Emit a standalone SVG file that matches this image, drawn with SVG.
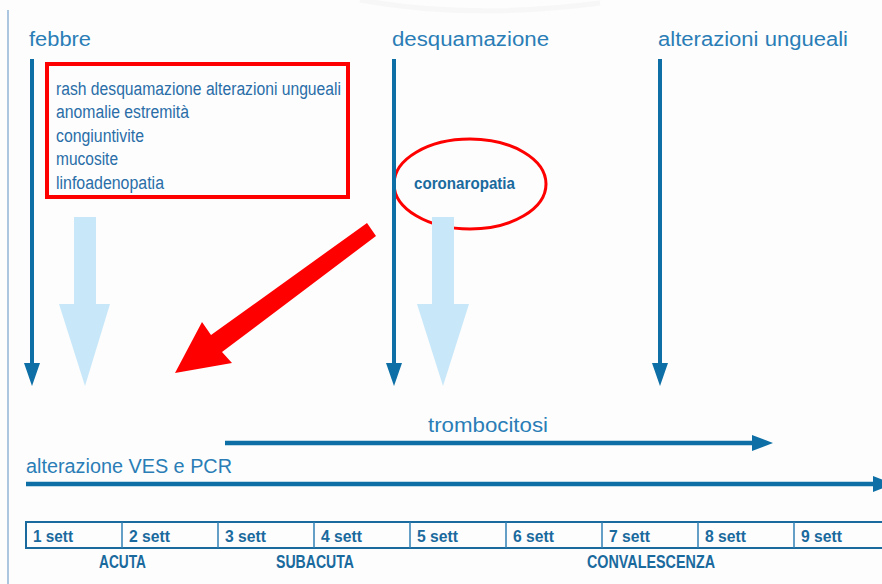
<svg xmlns="http://www.w3.org/2000/svg" width="882" height="584" viewBox="0 0 882 584">
<defs>
<style>
.hdr{font-family:"Liberation Sans",Arial,sans-serif;font-size:20px;fill:#2a7db6}
.box{font-family:"Liberation Sans Narrow","Liberation Sans",Arial,sans-serif;font-size:18px;fill:#2a6ea8}
.cell{font-family:"Liberation Sans Narrow","Liberation Sans",Arial,sans-serif;font-size:17px;font-weight:bold;fill:#1a6a9e}
.phase{font-family:"Liberation Sans Narrow","Liberation Sans",Arial,sans-serif;font-size:19px;font-weight:bold;fill:#1a6a9e}
.vline{stroke:#0d6fa5;stroke-width:4;fill:none}
.vhead{fill:#0d6fa5}
.big{fill:#c8e8f9}
.red{fill:none;stroke:#ff0000}
.col{stroke:#2f7fb5;stroke-width:1.5}
</style>
</defs>
<rect x="0" y="0" width="882" height="584" fill="#fdfdfd"/>
<path d="M360,0 Q470,20 600,3" fill="none" stroke="#f2f2f2" stroke-width="5" opacity="0.5"/>
<line x1="8" y1="10" x2="8" y2="584" stroke="#8fb3d3" stroke-width="1.5"/>

<g id="febbre"><text class="hdr" x="29" y="46" textLength="62" lengthAdjust="spacingAndGlyphs">febbre</text></g>
<g id="desquamazione"><text class="hdr" x="392" y="46" textLength="157" lengthAdjust="spacingAndGlyphs">desquamazione</text></g>
<g id="alterazioni-ungueali"><text class="hdr" x="658" y="46" textLength="190" lengthAdjust="spacingAndGlyphs">alterazioni ungueali</text></g>

<g id="sintomi">
<rect class="red" x="47" y="64" width="301" height="133" stroke-width="4"/>
<text class="box" x="56" y="95" textLength="285" lengthAdjust="spacingAndGlyphs">rash desquamazione alterazioni ungueali</text>
<text class="box" x="56" y="118" textLength="133" lengthAdjust="spacingAndGlyphs">anomalie estremità</text>
<text class="box" x="56" y="142" textLength="88" lengthAdjust="spacingAndGlyphs">congiuntivite</text>
<text class="box" x="56" y="165" textLength="62" lengthAdjust="spacingAndGlyphs">mucosite</text>
<text class="box" x="56" y="189" textLength="108" lengthAdjust="spacingAndGlyphs">linfoadenopatia</text>
</g>

<g id="coronaropatia">
<ellipse class="red" cx="470" cy="184" rx="76" ry="45" stroke-width="3"/>
<text x="414" y="189" textLength="101" lengthAdjust="spacingAndGlyphs" style="font-family:'Liberation Sans',Arial,sans-serif;font-size:16px;font-weight:bold;fill:#1a6a9e">coronaropatia</text>
</g>

<g id="trombocitosi-label"><text class="hdr" x="428" y="432" textLength="120" lengthAdjust="spacingAndGlyphs">trombocitosi</text></g>
<g id="ves-label"><text class="hdr" x="26" y="473" textLength="206" lengthAdjust="spacingAndGlyphs">alterazione VES e PCR</text></g>

<g id="connectors">
<line class="vline" x1="32" y1="59" x2="32" y2="366"/>
<polygon class="vhead" points="24,363 40,363 32,386"/>
<line class="vline" x1="394" y1="59" x2="394" y2="366"/>
<polygon class="vhead" points="386,363 402,363 394,386"/>
<line class="vline" x1="660" y1="59" x2="660" y2="366"/>
<polygon class="vhead" points="652,363 668,363 660,386"/>
<polygon class="big" points="74,217 96,217 96,304 110,304 85,386 59,304 74,304"/>
<polygon class="big" points="432,217 454,217 454,304 469,304 443,386 417,304 432,304"/>
<polygon fill="#ff0000" points="367,223 376,236 222,352 232,363 175,373 202,322 211,335"/>
<line x1="225" y1="443" x2="756" y2="443" stroke="#0d6fa5" stroke-width="4.5"/>
<polygon class="vhead" points="752,435 773,443 752,451"/>
<line x1="26" y1="484" x2="876" y2="484" stroke="#0d6fa5" stroke-width="4.5"/>
<polygon class="vhead" points="873,476 894,484 873,492"/>
</g>

<g id="settimane">
<rect x="26" y="522" width="870" height="26" fill="none" stroke="#1a6a9e" stroke-width="2"/>
<line class="col" x1="122" y1="522" x2="122" y2="548"/>
<line class="col" x1="218" y1="522" x2="218" y2="548"/>
<line class="col" x1="314" y1="522" x2="314" y2="548"/>
<line class="col" x1="410" y1="522" x2="410" y2="548"/>
<line class="col" x1="506" y1="522" x2="506" y2="548"/>
<line class="col" x1="602" y1="522" x2="602" y2="548"/>
<line class="col" x1="698" y1="522" x2="698" y2="548"/>
<line class="col" x1="794" y1="522" x2="794" y2="548"/>
<text class="cell" x="33" y="542" textLength="40" lengthAdjust="spacingAndGlyphs">1 sett</text>
<text class="cell" x="129" y="542" textLength="41" lengthAdjust="spacingAndGlyphs">2 sett</text>
<text class="cell" x="225" y="542" textLength="41" lengthAdjust="spacingAndGlyphs">3 sett</text>
<text class="cell" x="321" y="542" textLength="41" lengthAdjust="spacingAndGlyphs">4 sett</text>
<text class="cell" x="417" y="542" textLength="41" lengthAdjust="spacingAndGlyphs">5 sett</text>
<text class="cell" x="513" y="542" textLength="41" lengthAdjust="spacingAndGlyphs">6 sett</text>
<text class="cell" x="609" y="542" textLength="41" lengthAdjust="spacingAndGlyphs">7 sett</text>
<text class="cell" x="705" y="542" textLength="41" lengthAdjust="spacingAndGlyphs">8 sett</text>
<text class="cell" x="801" y="542" textLength="41" lengthAdjust="spacingAndGlyphs">9 sett</text>
</g>

<g id="fasi">
<text class="phase" x="99" y="568" textLength="47" lengthAdjust="spacingAndGlyphs">ACUTA</text>
<text class="phase" x="276" y="568" textLength="78" lengthAdjust="spacingAndGlyphs">SUBACUTA</text>
<text class="phase" x="587" y="568" textLength="128" lengthAdjust="spacingAndGlyphs">CONVALESCENZA</text>
</g>
</svg>
